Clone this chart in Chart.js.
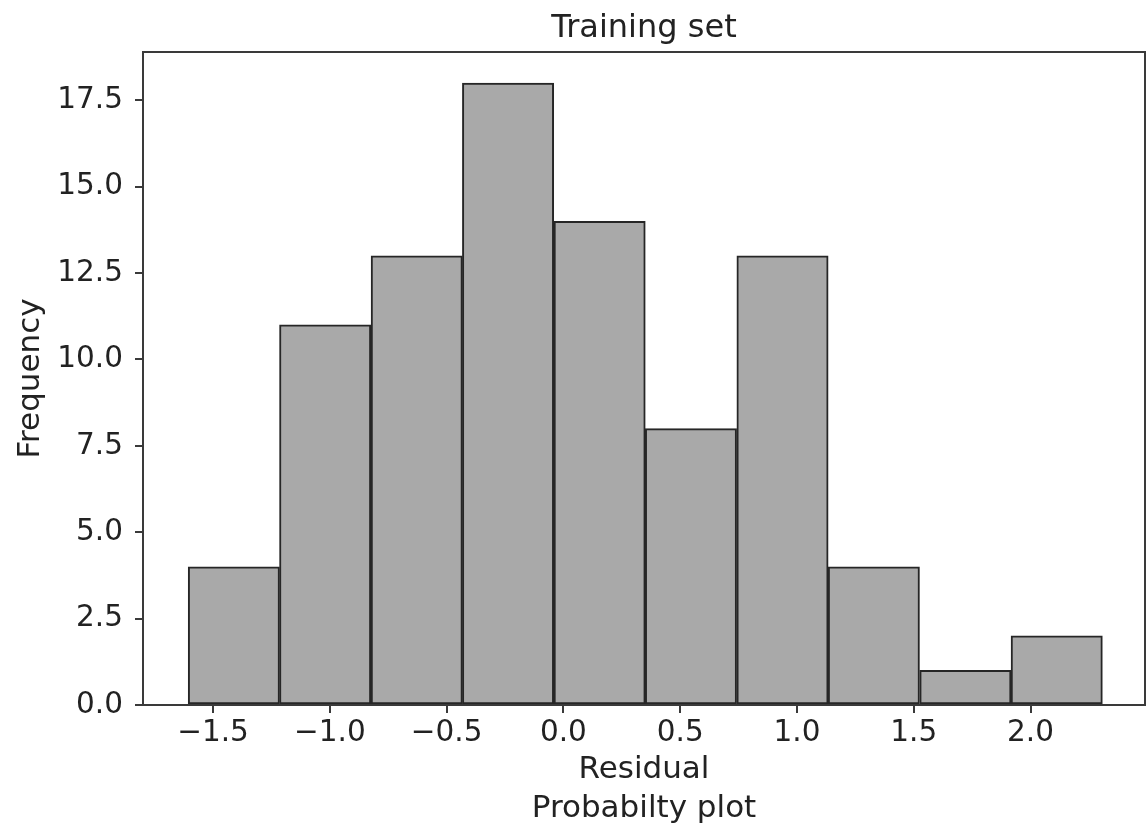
<!DOCTYPE html>
<html>
<head>
<meta charset="utf-8">
<script src="https://cdn.jsdelivr.net/npm/chart.js@4"></script>
<style>
  html, body { margin: 0; padding: 0; background: #fff; }
  #wrap { width: 1147px; height: 829px; }
</style>
</head>
<body>
<div id="wrap"><canvas id="chart"></canvas></div>
<script>
// histogram of residuals
const binCenters = [-1.411, -1.020, -0.628, -0.237, 0.155, 0.546, 0.938, 1.329, 1.721, 2.112];
const counts = [4, 11, 13, 18, 14, 8, 13, 4, 1, 2];
const xTicks = [-1.5, -1.0, -0.5, 0.0, 0.5, 1.0, 1.5, 2.0];
const yTicks = [0, 2.5, 5, 7.5, 10, 12.5, 15, 17.5];

const fontFamily = 'DejaVu Sans';
const ink = '#222';
const spine = '#3a3a3a';

// box round the plot area (matplotlib spines)
const frame = {
  id: 'frame',
  afterDatasetsDraw(chart) {
    const { ctx, chartArea: a } = chart;
    ctx.save();
    ctx.strokeStyle = spine;
    ctx.lineWidth = 2;
    ctx.strokeRect(a.left, a.top, a.right - a.left, a.bottom - a.top);
    ctx.restore();
  }
};

const ctx = document.getElementById('chart');
new Chart(ctx, {
  type: 'bar',
  data: {
    datasets: [{
      label: 'Frequency',
      xAxisID: 'x',
      yAxisID: 'y',
      data: binCenters.map((x, i) => ({ x: x, y: counts[i] })),
      backgroundColor: '#a9a9a9',
      borderColor: '#262626',
      borderWidth: 2,
      borderSkipped: false,
      barPercentage: 1,
      categoryPercentage: 1
    }]
  },
  options: {
    responsive: true,
    maintainAspectRatio: false,
    devicePixelRatio: 1,
    animation: false,
    layout: { padding: { left: 0, right: 2, top: 0, bottom: 0 } },
    plugins: {
      legend: { display: false },
      tooltip: { enabled: false }
    },
    scales: {
      x: {
        type: 'linear',
        min: -1.80,
        max: 2.49,
        offset: false,
        afterBuildTicks: s => { s.ticks = xTicks.map(v => ({ value: v })); },
        afterFit: s => { s.height = 124; },
        grid: {
          drawOnChartArea: false,
          drawTicks: true,
          tickLength: 8,
          tickColor: spine,
          lineWidth: 2,
          offset: false
        },
        border: { display: false },
        ticks: {
          color: ink,
          padding: 3,
          maxRotation: 0,
          font: { family: fontFamily, size: 29.5 },
          callback: v => v.toFixed(1).replace('-', '\u2212')
        },
        title: {
          display: true,
          text: ['Residual', 'Probabilty plot'],
          color: ink,
          font: { family: fontFamily, size: 31, lineHeight: 1.28 },
          padding: { top: 0, bottom: 0 }
        }
      },
      // empty top axis, only used to centre the title over the plot area
      top: {
        type: 'linear',
        position: 'top',
        min: -1.80,
        max: 2.49,
        afterFit: s => { s.height = 52; },
        grid: { display: false, drawTicks: false },
        border: { display: false },
        ticks: { display: false },
        title: {
          display: true,
          text: 'Training set',
          color: ink,
          font: { family: fontFamily, size: 32, lineHeight: 1.2 },
          padding: { top: 9, bottom: 0 }
        }
      },
      y: {
        min: 0,
        max: 18.9,
        afterBuildTicks: s => { s.ticks = yTicks.map(v => ({ value: v })); },
        afterFit: s => { s.width = 143; },
        grid: {
          drawOnChartArea: false,
          drawTicks: true,
          tickLength: 8,
          tickColor: spine,
          lineWidth: 2
        },
        border: { display: false },
        ticks: {
          color: ink,
          padding: 12,
          font: { family: fontFamily, size: 29.5 },
          callback: v => v.toFixed(1)
        },
        title: {
          display: true,
          text: 'Frequency',
          color: ink,
          font: { family: fontFamily, size: 31, lineHeight: 1.2 },
          padding: { top: 12, bottom: 0 }
        }
      }
    }
  },
  plugins: [frame]
});
</script>
</body>
</html>
